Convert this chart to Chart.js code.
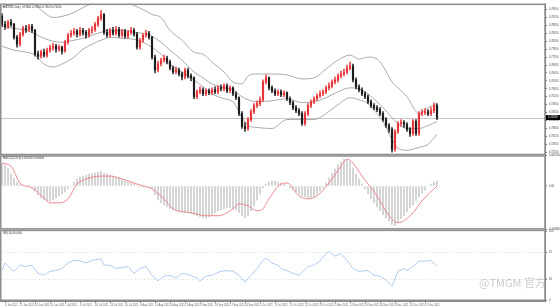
<!DOCTYPE html>
<html>
<head>
<meta charset="utf-8">
<script src="https://cdn.jsdelivr.net/npm/chart.js@4.4.1/dist/chart.umd.min.js"></script>
<style>
  html, body { margin: 0; padding: 0; background: #fff; }
</style>
</head>
<body>
<canvas id="chart" width="560" height="308"></canvas>
<script>
// date labels on the time axis (one every 5 bars)
const dateLabels = ['4 Jun 2021','11 Jun 2021','18 Jun 2021','25 Jun 2021','2 Jul 2021','9 Jul 2021','16 Jul 2021','23 Jul 2021','30 Jul 2021','6 Aug 2021','13 Aug 2021','20 Aug 2021','27 Aug 2021','3 Sep 2021','10 Sep 2021','17 Sep 2021','24 Sep 2021','1 Oct 2021','8 Oct 2021','15 Oct 2021','22 Oct 2021','29 Oct 2021','5 Nov 2021','12 Nov 2021','19 Nov 2021','26 Nov 2021','3 Dec 2021','10 Dec 2021','17 Dec 2021'];
const labelBars = [1,6,11,16,21,26,31,36,41,46,51,56,61,66,71,76,81,86,91,96,101,106,111,116,121,126,131,136,141];

// daily candles
const opens = [0.7930,0.7890,0.7880,0.7900,0.7890,0.7825,0.7790,0.7840,0.7870,0.7865,
  0.7880,0.7860,0.7740,0.7730,0.7750,0.7735,0.7760,0.7770,0.7780,0.7765,
  0.7775,0.7755,0.7800,0.7835,0.7845,0.7855,0.7840,0.7860,0.7850,0.7835,
  0.7860,0.7865,0.7890,0.7920,0.7940,0.7850,0.7835,0.7860,0.7845,0.7865,
  0.7835,0.7855,0.7830,0.7850,0.7860,0.7840,0.7775,0.7810,0.7835,0.7845,
  0.7825,0.7725,0.7660,0.7690,0.7710,0.7720,0.7700,0.7670,0.7650,0.7660,
  0.7640,0.7625,0.7660,0.7630,0.7620,0.7525,0.7550,0.7560,0.7540,0.7555,
  0.7545,0.7560,0.7550,0.7570,0.7565,0.7580,0.7555,0.7570,0.7540,0.7520,
  0.7440,0.7375,0.7365,0.7410,0.7450,0.7480,0.7490,0.7510,0.7600,0.7620,
  0.7570,0.7555,0.7540,0.7550,0.7535,0.7545,0.7515,0.7495,0.7470,0.7455,
  0.7440,0.7390,0.7440,0.7480,0.7500,0.7515,0.7530,0.7540,0.7550,0.7570,
  0.7580,0.7600,0.7610,0.7630,0.7640,0.7650,0.7670,0.7680,0.7610,0.7575,
  0.7560,0.7540,0.7525,0.7500,0.7480,0.7470,0.7460,0.7440,0.7410,0.7380,
  0.7360,0.7260,0.7350,0.7390,0.7395,0.7385,0.7360,0.7340,0.7400,0.7340,
  0.7440,0.7445,0.7450,0.7440,0.7455,0.7480];
const highs = [0.7945,0.7905,0.7910,0.7915,0.7895,0.7835,0.7850,0.7880,0.7885,0.7890,
  0.7890,0.7865,0.7755,0.7760,0.7765,0.7770,0.7785,0.7795,0.7790,0.7785,
  0.7780,0.7810,0.7845,0.7860,0.7870,0.7865,0.7875,0.7870,0.7860,0.7870,
  0.7880,0.7900,0.7930,0.7960,0.7945,0.7865,0.7870,0.7875,0.7880,0.7875,
  0.7865,0.7865,0.7860,0.7875,0.7870,0.7850,0.7820,0.7845,0.7860,0.7855,
  0.7830,0.7735,0.7705,0.7720,0.7735,0.7730,0.7710,0.7680,0.7675,0.7670,
  0.7650,0.7670,0.7670,0.7640,0.7625,0.7560,0.7575,0.7570,0.7565,0.7565,
  0.7570,0.7575,0.7580,0.7585,0.7590,0.7590,0.7580,0.7575,0.7550,0.7525,
  0.7450,0.7395,0.7420,0.7460,0.7490,0.7505,0.7525,0.7610,0.7635,0.7625,
  0.7580,0.7565,0.7560,0.7560,0.7555,0.7550,0.7525,0.7505,0.7480,0.7465,
  0.7450,0.7450,0.7490,0.7510,0.7525,0.7540,0.7555,0.7560,0.7580,0.7595,
  0.7610,0.7625,0.7640,0.7655,0.7665,0.7685,0.7700,0.7690,0.7620,0.7585,
  0.7570,0.7550,0.7535,0.7510,0.7490,0.7480,0.7470,0.7450,0.7420,0.7390,
  0.7370,0.7360,0.7400,0.7410,0.7405,0.7395,0.7370,0.7410,0.7410,0.7450,
  0.7460,0.7465,0.7460,0.7470,0.7495,0.7490];
const lows = [0.7880,0.7865,0.7870,0.7880,0.7815,0.7775,0.7780,0.7830,0.7850,0.7855,
  0.7850,0.7730,0.7715,0.7720,0.7725,0.7725,0.7750,0.7760,0.7750,0.7755,
  0.7740,0.7750,0.7790,0.7825,0.7835,0.7825,0.7830,0.7835,0.7820,0.7825,
  0.7845,0.7855,0.7880,0.7910,0.7840,0.7825,0.7825,0.7835,0.7835,0.7825,
  0.7825,0.7820,0.7820,0.7840,0.7830,0.7765,0.7765,0.7800,0.7825,0.7815,
  0.7715,0.7645,0.7650,0.7680,0.7700,0.7690,0.7660,0.7640,0.7640,0.7630,
  0.7610,0.7615,0.7620,0.7605,0.7515,0.7515,0.7540,0.7530,0.7530,0.7535,
  0.7535,0.7540,0.7540,0.7555,0.7555,0.7545,0.7545,0.7530,0.7510,0.7430,
  0.7365,0.7350,0.7355,0.7400,0.7440,0.7470,0.7480,0.7500,0.7590,0.7560,
  0.7545,0.7530,0.7530,0.7525,0.7525,0.7505,0.7485,0.7460,0.7445,0.7430,
  0.7380,0.7380,0.7430,0.7470,0.7490,0.7505,0.7520,0.7530,0.7540,0.7560,
  0.7570,0.7590,0.7600,0.7620,0.7630,0.7640,0.7660,0.7600,0.7565,0.7550,
  0.7530,0.7515,0.7490,0.7470,0.7460,0.7450,0.7430,0.7400,0.7370,0.7345,
  0.7245,0.7250,0.7340,0.7375,0.7370,0.7350,0.7325,0.7330,0.7330,0.7330,
  0.7430,0.7435,0.7430,0.7430,0.7445,0.7410];
const closes = [0.7890,0.7880,0.7900,0.7890,0.7825,0.7790,0.7840,0.7870,0.7865,0.7880,
  0.7860,0.7740,0.7730,0.7750,0.7735,0.7760,0.7770,0.7780,0.7765,0.7775,
  0.7755,0.7800,0.7835,0.7845,0.7855,0.7840,0.7860,0.7850,0.7835,0.7860,
  0.7865,0.7890,0.7920,0.7940,0.7850,0.7835,0.7860,0.7845,0.7865,0.7835,
  0.7855,0.7830,0.7850,0.7860,0.7840,0.7775,0.7810,0.7835,0.7845,0.7825,
  0.7725,0.7660,0.7690,0.7710,0.7720,0.7700,0.7670,0.7650,0.7660,0.7640,
  0.7625,0.7660,0.7630,0.7620,0.7525,0.7550,0.7560,0.7540,0.7555,0.7545,
  0.7560,0.7550,0.7570,0.7565,0.7580,0.7555,0.7570,0.7540,0.7520,0.7440,
  0.7375,0.7365,0.7410,0.7450,0.7480,0.7490,0.7510,0.7600,0.7620,0.7570,
  0.7555,0.7540,0.7550,0.7535,0.7545,0.7515,0.7495,0.7470,0.7455,0.7440,
  0.7390,0.7440,0.7480,0.7500,0.7515,0.7530,0.7540,0.7550,0.7570,0.7580,
  0.7600,0.7610,0.7630,0.7640,0.7650,0.7670,0.7680,0.7610,0.7575,0.7560,
  0.7540,0.7525,0.7500,0.7480,0.7470,0.7460,0.7440,0.7410,0.7380,0.7360,
  0.7260,0.7350,0.7390,0.7395,0.7385,0.7360,0.7340,0.7400,0.7340,0.7440,
  0.7445,0.7450,0.7440,0.7455,0.7480,0.7420];

// Bollinger bands, read at these bars
const bbBars = [0,4,8,11,14,17,20,24,27,30,33,36,40,44,47,50,53,56,60,64,67,70,74,77,80,82,85,90,95,100,104,108,112,116,119,122,125,127,130,132,135,139,142,145];
const bbUpper = [0.7980,0.7990,0.8000,0.7990,0.7950,0.7925,0.7930,0.7950,0.7975,0.7995,0.8015,0.8020,0.8010,0.7985,0.7965,0.7940,0.7925,0.7860,0.7810,0.7750,0.7740,0.7700,0.7650,0.7600,0.7590,0.7630,0.7640,0.7640,0.7635,0.7615,0.7620,0.7665,0.7710,0.7735,0.7715,0.7725,0.7715,0.7680,0.7600,0.7570,0.7525,0.7440,0.7470,0.7490];
const bbMiddle = [0.7880,0.7870,0.7860,0.7840,0.7820,0.7805,0.7800,0.7810,0.7820,0.7835,0.7850,0.7860,0.7860,0.7850,0.7845,0.7830,0.7800,0.7760,0.7710,0.7650,0.7620,0.7590,0.7570,0.7560,0.7525,0.7510,0.7500,0.7505,0.7515,0.7495,0.7500,0.7520,0.7550,0.7570,0.7565,0.7540,0.7500,0.7470,0.7420,0.7390,0.7365,0.7365,0.7380,0.7400];
const bbLower = [0.7780,0.7760,0.7750,0.7735,0.7690,0.7675,0.7690,0.7725,0.7765,0.7790,0.7810,0.7825,0.7820,0.7815,0.7800,0.7775,0.7740,0.7690,0.7650,0.7610,0.7575,0.7540,0.7515,0.7500,0.7420,0.7380,0.7370,0.7365,0.7410,0.7410,0.7410,0.7440,0.7485,0.7520,0.7510,0.7490,0.7440,0.7400,0.7310,0.7265,0.7255,0.7270,0.7285,0.7335];

// MACD histogram (one per bar) and signal line
const macdHist = [0.0044,0.0042,0.0036,0.0024,0.0016,0.0008,0.0004,0.0002,0,0.0002,
  -0.0002,-0.001,-0.0018,-0.0024,-0.0028,-0.003,-0.003,-0.0028,-0.0024,-0.002,
  -0.0016,-0.0012,-0.0006,0,0.0008,0.0014,0.0018,0.002,0.0022,0.0024,
  0.0024,0.0026,0.0028,0.003,0.0026,0.0024,0.0022,0.002,0.0018,0.0016,
  0.0012,0.001,0.0008,0.0006,0.0004,0,-0.0002,-0.0002,0,-0.0002,
  -0.0006,-0.0018,-0.0028,-0.0034,-0.0038,-0.0042,-0.0046,-0.0048,-0.005,-0.0052,
  -0.0052,-0.0054,-0.0054,-0.0056,-0.0058,-0.006,-0.0062,-0.0064,-0.0064,-0.0062,
  -0.0058,-0.0054,-0.005,-0.0048,-0.0046,-0.0044,-0.0044,-0.0046,-0.0048,-0.0054,
  -0.006,-0.0064,-0.006,-0.005,-0.004,-0.0028,-0.0016,-0.0004,0.0004,0.0008,
  0.001,0.001,0.0008,0.0006,0.0004,0,-0.0004,-0.0008,-0.0012,-0.0016,
  -0.002,-0.0022,-0.0024,-0.0024,-0.0022,-0.0016,-0.001,-0.0004,0.0006,0.0016,
  0.0026,0.0034,0.0042,0.0048,0.0054,0.0054,0.0048,0.0036,0.0024,0.0014,
  0.0004,-0.0006,-0.0016,-0.0026,-0.0034,-0.0042,-0.005,-0.0058,-0.0064,-0.007,
  -0.0078,-0.008,-0.0074,-0.0066,-0.006,-0.0052,-0.0044,-0.0038,-0.003,-0.0022,
  -0.0014,-0.0008,0,0.0004,0.0008,0.001];
const signalBars = [0,3,6,10,14,16,19,22,25,28,33,36,39,44,47,50,54,57,63,68,72,77,79,82,85,87,89,93,95,99,102,105,109,113,115,117,120,125,129,132,134,137,140,145];
const signalVals = [0.0046,0.004,0.0006,-0.0004,-0.0024,-0.0034,-0.0034,-0.0026,0.0004,0.0014,0.002,0.002,0.0016,0.0006,0,-0.0006,-0.0026,-0.0046,-0.0054,-0.006,-0.006,-0.0046,-0.0036,-0.004,-0.005,-0.0046,-0.0026,0.0004,0.0006,-0.002,-0.0026,-0.002,0.0006,0.004,0.0054,0.0046,0.002,-0.002,-0.006,-0.0074,-0.007,-0.0054,-0.003,0];

// RSI
const rsiBars = [0,1,4,6,8,10,12,14,16,18,20,22,24,26,28,30,33,34,36,38,42,44,46,48,50,52,54,56,58,60,63,65,66,68,70,73,75,77,79,81,83,85,87,88,90,92,93,95,97,99,102,104,106,108,109,111,113,115,117,119,122,124,126,128,130,132,134,135,137,139,142,143,145];
const rsiVals = [43,54,42,51,49,51,39,36,42,43,46,54,58,57,54,58,60,51,51,46,49,39,46,49,36,28,35,36,32,39,36,32,28,35,36,42,43,42,36,26,36,46,58,61,54,51,46,43,39,36,49,51,57,68,71,64,68,58,46,42,43,36,35,29,20,42,46,43,49,57,57,58,49];

// axis ticks
const priceTicks = [0.7965,0.7925,0.7885,0.7845,0.7805,0.7765,0.7725,0.7685,0.7645,0.7605,0.7565,0.7525,0.7485,0.7445,0.7405,0.7365,0.7325,0.7285,0.7245];
const macdTicks = [0.0062, 0, -0.0088];
const rsiTicks = [100, 70, 30, 0];
const rsiLevels = [70, 30];

const last = closes.length - 1;
const bull = '#e8353a', bear = '#1c1c1c';
const candleColor = ctx => closes[ctx.dataIndex] >= opens[ctx.dataIndex] ? bull : bear;
const tiny = { size: 2.6, family: 'Liberation Sans' };

const titleMain = 'AUDUSD,Daily  ' + [opens, highs, lows, closes].map(a => a[last].toFixed(5)).join(' ');
const titleMacd = 'MACD(12,26,9) ' + macdHist[last].toFixed(6) + ' ' + signalVals[signalVals.length - 1].toFixed(6);
const titleRsi = 'RSI(14) ' + rsiVals[rsiVals.length - 1].toFixed(4);

const paneIds = ['yPrice', 'yMacd', 'yRsi'];

const panes = {
  id: 'panes',
  beforeDatasetsDraw(chart) {
    const { ctx, chartArea: a, scales } = chart;
    ctx.save();
    ctx.lineWidth = 1;
    // rsi levels
    ctx.strokeStyle = '#dcdcdc';
    ctx.setLineDash([1, 2]);
    rsiLevels.forEach(v => {
      const y = Math.round(scales.yRsi.getPixelForValue(v)) + 0.5;
      ctx.beginPath(); ctx.moveTo(a.left, y); ctx.lineTo(a.right, y); ctx.stroke();
    });
    // last price line
    ctx.setLineDash([]);
    ctx.strokeStyle = '#c6c6c6';
    const py = Math.round(scales.yPrice.getPixelForValue(closes[last])) + 0.5;
    ctx.beginPath(); ctx.moveTo(a.left, py); ctx.lineTo(a.right, py); ctx.stroke();
    ctx.restore();
  },
  afterDraw(chart) {
    const { ctx, chartArea: a, scales } = chart;
    ctx.save();
    ctx.strokeStyle = '#8e8e8e';
    ctx.lineWidth = 1.5;
    paneIds.forEach(id => {
      const s = scales[id];
      ctx.strokeRect(a.left + 0.75, s.top + 0.75, a.right - a.left - 0.75, s.bottom - s.top - 1.5);
    });
    // pane titles
    ctx.fillStyle = '#333';
    ctx.font = '2.6px "Liberation Sans"';
    ctx.textBaseline = 'top';
    ctx.fillText(titleMain, a.left + 3, scales.yPrice.top + 2);
    ctx.fillText(titleMacd, a.left + 3, scales.yMacd.top + 2);
    ctx.fillText(titleRsi, a.left + 3, scales.yRsi.top + 2);
    // last price box on the axis
    const py = scales.yPrice.getPixelForValue(closes[last]);
    ctx.fillStyle = '#000';
    ctx.fillRect(a.right + 1, py - 2.5, 14, 5);
    ctx.fillStyle = '#fff';
    ctx.textBaseline = 'middle';
    ctx.fillText(closes[last].toFixed(5), a.right + 3, py);
    // watermark
    ctx.fillStyle = 'rgba(140,140,140,0.45)';
    ctx.font = '11px "Noto Sans CJK SC"';
    ctx.textBaseline = 'alphabetic';
    ctx.fillText('@TMGM 官方', 479, 287);
    ctx.restore();
  }
};

const yAxis = (weight, min, max, ticks, fmt) => ({
  type: 'linear',
  position: 'right',
  stack: 'panes',
  stackWeight: weight,
  min: min,
  max: max,
  afterBuildTicks: s => { s.ticks = ticks.map(v => ({ value: v })); },
  afterFit: s => { s.width = 15; },
  ticks: { autoSkip: false, font: tiny, color: '#444', padding: 2, callback: fmt },
  grid: { drawOnChartArea: false, tickLength: 2, color: '#777' },
  border: { color: '#777' }
});

new Chart(document.getElementById('chart'), {
  type: 'bar',
  data: {
    datasets: [
      {
        label: 'body',
        yAxisID: 'yPrice',
        data: closes.map((c, i) => ({ x: i, y: [opens[i], c] })),
        backgroundColor: candleColor,
        barThickness: 1.5,
        minBarLength: 1,
        grouped: false,
        order: 0
      },
      {
        label: 'wick',
        yAxisID: 'yPrice',
        data: closes.map((c, i) => ({ x: i, y: [lows[i], highs[i]] })),
        backgroundColor: candleColor,
        barThickness: 0.8,
        grouped: false,
        order: 1
      },
      ...[bbUpper, bbMiddle, bbLower].map(band => ({
        type: 'line',
        yAxisID: 'yPrice',
        data: bbBars.map((b, k) => ({ x: b, y: band[k] })),
        borderColor: '#ababab',
        borderWidth: 1,
        pointRadius: 0,
        cubicInterpolationMode: 'monotone',
        order: 3
      })),
      {
        label: 'macd',
        yAxisID: 'yMacd',
        data: macdHist.map((v, i) => ({ x: i, y: v })),
        backgroundColor: '#cdcdcd',
        barThickness: 1,
        grouped: false,
        order: 2
      },
      {
        type: 'line',
        label: 'signal',
        yAxisID: 'yMacd',
        data: signalBars.map((b, k) => ({ x: b, y: signalVals[k] })),
        borderColor: '#ec8790',
        borderWidth: 1,
        pointRadius: 0,
        cubicInterpolationMode: 'monotone',
        order: 0
      },
      {
        type: 'line',
        label: 'rsi',
        yAxisID: 'yRsi',
        data: rsiBars.map((b, k) => ({ x: b, y: rsiVals[k] })),
        borderColor: '#b0ccf0',
        borderWidth: 1,
        pointRadius: 0,
        tension: 0,
        order: 0
      }
    ]
  },
  options: {
    responsive: false,
    devicePixelRatio: 1,
    animation: false,
    events: [],
    layout: { padding: { top: 1, left: 0, right: 0, bottom: 0 } },
    plugins: { legend: { display: false }, tooltip: { enabled: false } },
    scales: {
      x: {
        type: 'linear',
        position: 'bottom',
        min: -2 / 3,
        max: 181,
        offset: false,
        afterBuildTicks: s => { s.ticks = labelBars.map(v => ({ value: v })); },
        afterFit: s => { s.height = 7; },
        ticks: { autoSkip: false, maxRotation: 0, align: 'start', font: tiny, color: '#666', padding: 1,
          callback: (v, i) => dateLabels[i] },
        grid: { drawOnChartArea: false, offset: false, tickLength: 2, color: '#888' },
        border: { color: '#888' }
      },
      yPrice: yAxis(153, 0.7230, 0.7995, priceTicks, v => v.toFixed(5)),
      yMacd: yAxis(75, -0.0088, 0.0062, macdTicks, v => v === 0 ? '0.00' : v.toFixed(6)),
      yRsi: yAxis(72, -1.45, 102.9, rsiTicks, v => String(v))
    }
  },
  plugins: [panes]
});
</script>
</body>
</html>
